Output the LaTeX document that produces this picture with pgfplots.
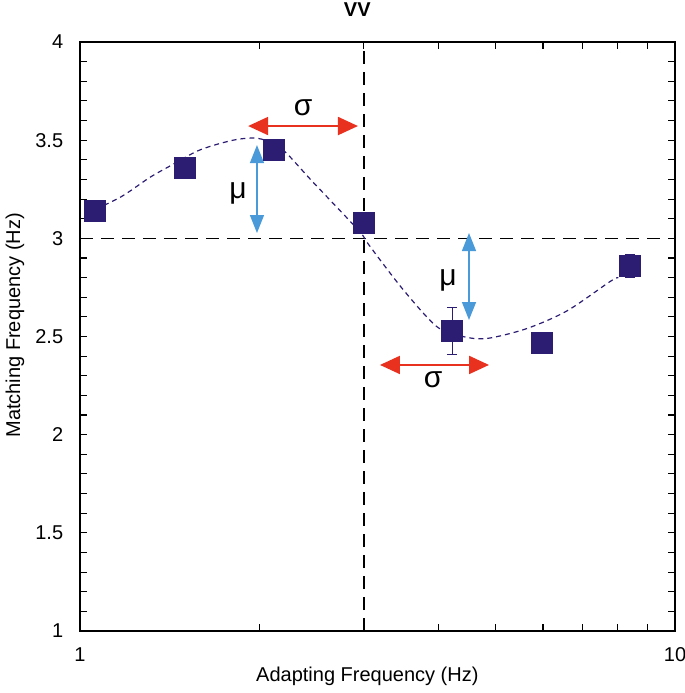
\documentclass[border=0pt]{standalone}
\usepackage{pgfplots}
\pgfplotsset{compat=1.18}
\usepackage{fontspec}
\setmainfont{Liberation Sans}
\usetikzlibrary{arrows.meta}
\definecolor{navy}{RGB}{45,29,114}
\definecolor{ared}{RGB}{232,49,31}
\definecolor{ablue}{RGB}{74,154,217}
\begin{document}
\fontsize{20bp}{24bp}\selectfont
\begin{tikzpicture}
\path[use as bounding box] (-80bp,-62bp) rectangle (605bp,631bp);
\begin{axis}[
  at={(0,0)}, anchor=south west,
  scale only axis, width=595bp, height=589bp,
  xmode=log, xmin=1, xmax=10, ymin=1, ymax=4,
  xtick={1,10}, xticklabels={1,10},
  minor xtick={2,3,4,5,6,7,8,9},
  ytick={1,1.5,2,2.5,3,3.5,4},
  yticklabels={1,1.5,2,2.5,3,3.5,4},
  minor y tick num=4,
  tick align=inside,
  major tick length=7bp, minor tick length=7bp,
  tick style={black, line width=1.1bp},
  axis line style={black, line width=1.3bp},
  /pgf/number format/assume math mode=true,
  ticklabel style={font=\fontsize{20bp}{24bp}\selectfont},
  yticklabel style={xshift=-10bp},
  xticklabel style={yshift=-10bp},
  xlabel={Adapting Frequency (Hz)},
  ylabel={Matching Frequency (Hz)},
  title={VV},
  every axis x label/.style={at={(rel axis cs:0.483,0)}, yshift=-45bp, anchor=center, font=\fontsize{20bp}{24bp}\selectfont},
  every axis y label/.style={at={(rel axis cs:0,0.519)}, xshift=-65bp, rotate=90, anchor=center, font=\fontsize{20bp}{24bp}\selectfont},
  every axis title/.style={at={(rel axis cs:0.466,1)}, yshift=32bp, anchor=center, font=\fontsize{20bp}{24bp}\selectfont\bfseries},
  clip=false,
]
% reference lines
\addplot[black, line width=1.3bp, dash pattern=on 13bp off 8bp] coordinates {(3,1) (3,4)};
\addplot[black, line width=1.3bp, dash pattern=on 13bp off 8bp] coordinates {(1,3) (10,3)};
% fit curve
\addplot[navy, line width=1.2bp, dash pattern=on 5bp off 4bp, smooth] coordinates {
 (1.03,3.13) (1.17,3.21) (1.31,3.31) (1.42,3.37) (1.59,3.45) (1.81,3.50)
 (1.98,3.51) (2.13,3.48) (2.23,3.43) (2.44,3.30) (2.66,3.18) (2.96,3.03)
 (3.07,2.96) (3.49,2.74) (3.98,2.55) (4.40,2.50) (4.83,2.49) (5.63,2.54)
 (6.58,2.63) (7.78,2.78) (8.03,2.80)};
% data
\addplot[navy, only marks, mark=square*, mark size=10.5bp,
  error bars/.cd, y dir=both, y explicit,
  error bar style={navy, line width=1bp},
  error mark options={navy, line width=1bp, mark size=5bp, rotate=90}]
  coordinates {
 (1.06,3.14) +- (0,0.03)
 (1.50,3.36) +- (0,0.03)
 (2.12,3.45) +- (0,0.03)
 (3.00,3.08) +- (0,0.03)
 (4.22,2.53) +- (0,0.12)
 (5.98,2.47) +- (0,0.04)
 (8.40,2.86) +- (0,0.06)};
% arrows
\addplot[ared, line width=2bp, {Triangle[length=20bp,width=18bp]}-{Triangle[length=20bp,width=18bp]}] coordinates {(1.917,3.572) (2.932,3.572)};
\addplot[ared, line width=2bp, {Triangle[length=20bp,width=18bp]}-{Triangle[length=20bp,width=18bp]}] coordinates {(3.193,2.355) (4.869,2.355)};
\addplot[ablue, line width=1.5bp, {Triangle[length=18bp,width=14bp]}-{Triangle[length=18bp,width=14bp]}] coordinates {(1.984,3.475) (1.984,3.027)};
\addplot[ablue, line width=1.5bp, {Triangle[length=18bp,width=14bp]}-{Triangle[length=18bp,width=14bp]}] coordinates {(4.506,3.027) (4.506,2.584)};
\node[font=\fontsize{30bp}{34bp}\selectfont] at (axis cs:2.371,3.664) {σ};
\node[font=\fontsize{30bp}{34bp}\selectfont] at (axis cs:3.921,2.278) {σ};
\node[font=\fontsize{30bp}{34bp}\selectfont] at (axis cs:1.843,3.231) {μ};
\node[font=\fontsize{30bp}{34bp}\selectfont] at (axis cs:4.155,2.788) {μ};
\end{axis}
\end{tikzpicture}
\end{document}
